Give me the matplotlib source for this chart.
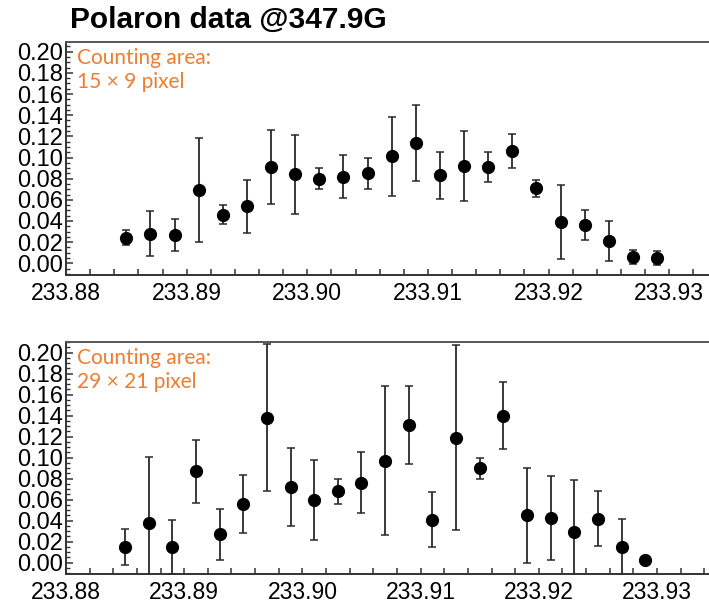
import matplotlib
matplotlib.use("Agg")
import matplotlib.pyplot as plt
from matplotlib.ticker import MultipleLocator, FormatStrFormatter

# Magnetic field / frequency axis positions (shared by both panels)
freq = [233.885, 233.887, 233.889, 233.891, 233.893, 233.895, 233.897, 233.899,
        233.901, 233.903, 233.905, 233.907, 233.909, 233.911, 233.913, 233.915,
        233.917, 233.919, 233.921, 233.923, 233.925, 233.927, 233.929]

# Counting area 15 x 9 pixel
signal_small = [0.024, 0.028, 0.027, 0.069, 0.046, 0.054, 0.091, 0.084,
                0.080, 0.082, 0.085, 0.101, 0.114, 0.083, 0.092, 0.091,
                0.106, 0.071, 0.039, 0.036, 0.021, 0.006, 0.005]
err_small = [0.007, 0.021, 0.015, 0.049, 0.009, 0.025, 0.035, 0.037,
             0.010, 0.020, 0.015, 0.037, 0.036, 0.022, 0.033, 0.014,
             0.016, 0.008, 0.035, 0.014, 0.019, 0.007, 0.007]

# Counting area 29 x 21 pixel
signal_large = [0.015, 0.038, 0.015, 0.087, 0.027, 0.056, 0.138, 0.072,
                0.060, 0.068, 0.076, 0.097, 0.131, 0.041, 0.119, 0.090,
                0.140, 0.045, 0.043, 0.029, 0.042, 0.015, 0.003]
err_large = [0.017, 0.063, 0.026, 0.030, 0.024, 0.028, 0.070, 0.037,
             0.038, 0.012, 0.029, 0.071, 0.037, 0.026, 0.088, 0.010,
             0.032, 0.045, 0.040, 0.050, 0.026, 0.027, 0.002]

labels = ["Counting area:\n15 \u00d7 9 pixel", "Counting area:\n29 \u00d7 21 pixel"]
title = "Polaron data @347.9G"

W, H = 709, 608
fig = plt.figure(figsize=(W / 100, H / 100), dpi=100)

def px_axes(left, top, right, bottom):
    return fig.add_axes([left / W, 1 - bottom / H, (right - left) / W, (bottom - top) / H])

panels = [
    (px_axes(66, 41.7, 709, 275), signal_small, err_small, labels[0], (233.88, 233.9333), (-0.0111, 0.2095)),
    (px_axes(66, 341.7, 709, 574.3), signal_large, err_large, labels[1], (233.88, 233.9344), (-0.011, 0.2105)),
]

for ax, sig, err, lab, xl, yl in panels:
    ax.errorbar(freq, sig, yerr=err, fmt="o", color="black", markersize=8.5,
                ecolor="#2a2a2a", elinewidth=1.3, capsize=3, capthick=1.1, zorder=3)
    ax.set_xlim(*xl)
    ax.set_ylim(*yl)
    ax.xaxis.set_major_locator(MultipleLocator(0.01))
    ax.xaxis.set_minor_locator(MultipleLocator(0.002))
    ax.yaxis.set_major_locator(MultipleLocator(0.02))
    ax.yaxis.set_minor_locator(MultipleLocator(0.005))
    ax.xaxis.set_major_formatter(FormatStrFormatter("%.2f"))
    ax.yaxis.set_major_formatter(FormatStrFormatter("%.2f"))
    ax.tick_params(axis="both", which="both", direction="in", color="#333333")
    ax.tick_params(axis="x", which="major", length=4, width=1.1, pad=5)
    ax.tick_params(axis="x", which="minor", length=4, width=1.1)
    ax.tick_params(axis="y", which="major", length=5, width=1.1, pad=2)
    ax.tick_params(axis="y", which="minor", length=3, width=1.0)
    for t in ax.get_xticklabels():
        t.set_fontfamily("Liberation Sans")
        t.set_fontsize(16.5)
    for t in ax.get_yticklabels():
        t.set_fontfamily("Liberation Sans")
        t.set_fontsize(17)
    ax.spines["right"].set_visible(False)
    for s in ("left", "bottom"):
        ax.spines[s].set_color("#333333")
        ax.spines[s].set_linewidth(1.4)
    ax.spines["top"].set_color("#555555")
    ax.spines["top"].set_linewidth(1.4)
    ax.text(11 / 643, 0.975, lab, transform=ax.transAxes, ha="left", va="top",
            color="#ED7D31", fontsize=15, family="Lato", linespacing=1.25)

fig.text(70 / W, 1 - 20 / H, title, ha="left", va="center", fontsize=21.5,
         fontweight="bold", family="Liberation Sans", color="black")

fig.savefig("out.png", dpi=100)
